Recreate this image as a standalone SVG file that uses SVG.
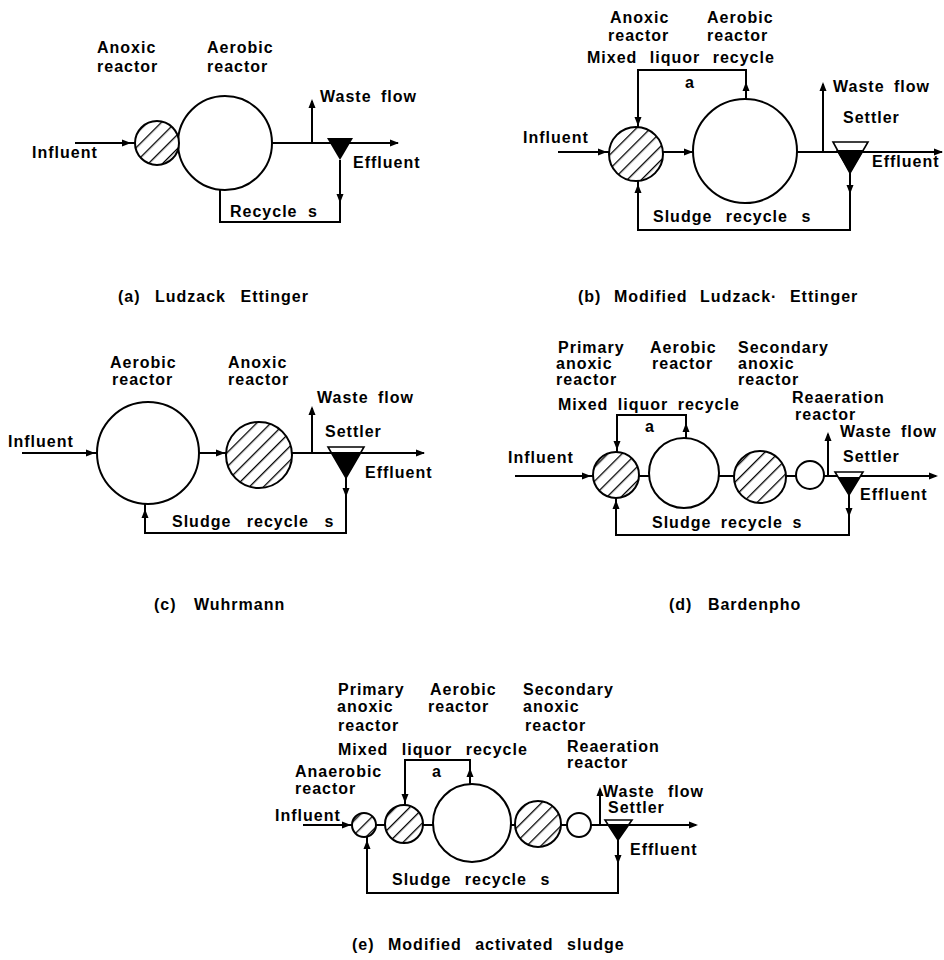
<svg xmlns="http://www.w3.org/2000/svg" xmlns:xlink="http://www.w3.org/1999/xlink" width="944" height="960" viewBox="0 0 944 960">
<style>
.t{font-family:"Liberation Sans",Arial,sans-serif;font-size:16px;font-weight:bold;letter-spacing:1px;word-spacing:4px;fill:#000}
.c{fill:#fff;stroke:#000;stroke-width:2}
.h{fill:url(#hatch);stroke:#000;stroke-width:2}
.ln{fill:none;stroke:#000;stroke-width:2}
.st{fill:#fff;stroke:#000;stroke-width:1.6}
.blk{fill:#000}
</style>
<defs>
<pattern id="hatch" patternUnits="userSpaceOnUse" width="10" height="10" patternTransform="rotate(45)">
<rect width="10" height="10" fill="#fff"/>
<line x1="0" y1="0" x2="0" y2="10" stroke="#000" stroke-width="2.6"/>
</pattern>
<path id="ah" d="M0,0 L-9,-3.5 L-9,3.5 Z" fill="#000"/>
</defs>
<rect width="944" height="960" fill="#fff"/>

<!-- ===== connectors ===== -->
<g id="connectors">
<!-- (a) -->
<path class="ln" d="M75,143 H136"/>
<path class="ln" d="M272,143 H398"/>
<path class="ln" d="M312,143 V101"/>
<path class="ln" d="M340,160 V222 H220 V189"/>
<use xlink:href="#ah" transform="translate(131,143)"/>
<use xlink:href="#ah" transform="translate(399,143)"/>
<use xlink:href="#ah" transform="translate(312,99) rotate(-90)"/>
<use xlink:href="#ah" transform="translate(340,203) rotate(90)"/>
<!-- (b) -->
<path class="ln" d="M558,152 H609"/>
<path class="ln" d="M663,152 H693"/>
<path class="ln" d="M797,152 H942"/>
<path class="ln" d="M823,152 V84"/>
<path class="ln" d="M746,99 V70 H638 V127"/>
<path class="ln" d="M850,173 V230 H638 V181"/>
<use xlink:href="#ah" transform="translate(607,152)"/>
<use xlink:href="#ah" transform="translate(693,152)"/>
<use xlink:href="#ah" transform="translate(943,152)"/>
<use xlink:href="#ah" transform="translate(823,82) rotate(-90)"/>
<use xlink:href="#ah" transform="translate(746,82) rotate(-90)"/>
<use xlink:href="#ah" transform="translate(638,126) rotate(90)"/>
<use xlink:href="#ah" transform="translate(850,194) rotate(90)"/>
<use xlink:href="#ah" transform="translate(638,184) rotate(-90)"/>
<!-- (c) -->
<path class="ln" d="M22,453 H97"/>
<path class="ln" d="M199,453 H226"/>
<path class="ln" d="M292,453 H424"/>
<path class="ln" d="M312,453 V408"/>
<path class="ln" d="M346,478 V533 H145 V504"/>
<use xlink:href="#ah" transform="translate(95,453)"/>
<use xlink:href="#ah" transform="translate(225,453)"/>
<use xlink:href="#ah" transform="translate(425,453)"/>
<use xlink:href="#ah" transform="translate(312,406) rotate(-90)"/>
<use xlink:href="#ah" transform="translate(346,497) rotate(90)"/>
<use xlink:href="#ah" transform="translate(145,509) rotate(-90)"/>
<!-- (d) -->
<path class="ln" d="M515,476 H593"/>
<path class="ln" d="M639,476 H649"/>
<path class="ln" d="M719,476 H734"/>
<path class="ln" d="M786,476 H796"/>
<path class="ln" d="M824,476 H936"/>
<path class="ln" d="M828,476 V434"/>
<path class="ln" d="M686,438 V415 H617 V452"/>
<path class="ln" d="M849,495 V535 H616 V498"/>
<use xlink:href="#ah" transform="translate(591,476)"/>
<use xlink:href="#ah" transform="translate(938,476)"/>
<use xlink:href="#ah" transform="translate(828,432) rotate(-90)"/>
<use xlink:href="#ah" transform="translate(686,423) rotate(-90)"/>
<use xlink:href="#ah" transform="translate(617,450) rotate(90)"/>
<use xlink:href="#ah" transform="translate(849,517) rotate(90)"/>
<use xlink:href="#ah" transform="translate(616,500) rotate(-90)"/>
<!-- (e) -->
<path class="ln" d="M303,825 H352"/>
<path class="ln" d="M376,825 H386"/>
<path class="ln" d="M423,825 H433"/>
<path class="ln" d="M511,825 H516"/>
<path class="ln" d="M561,825 H567"/>
<path class="ln" d="M591,825 H696"/>
<path class="ln" d="M600,825 V789"/>
<path class="ln" d="M470,784 V760 H405 V805"/>
<path class="ln" d="M618,840 V893 H367 V837"/>
<use xlink:href="#ah" transform="translate(351,825)"/>
<use xlink:href="#ah" transform="translate(698,825)"/>
<use xlink:href="#ah" transform="translate(600,787) rotate(-90)"/>
<use xlink:href="#ah" transform="translate(470,768) rotate(-90)"/>
<use xlink:href="#ah" transform="translate(405,803) rotate(90)"/>
<use xlink:href="#ah" transform="translate(618,864) rotate(90)"/>
<use xlink:href="#ah" transform="translate(367,840) rotate(-90)"/>
</g>

<!-- ===== panel (a) ===== -->
<g id="a-aerobic"><circle class="c" cx="225" cy="143" r="47"/><text class="t" x="207" y="53">Aerobic</text><text class="t" x="207" y="72">reactor</text></g>
<g id="a-anoxic"><circle class="h" cx="157" cy="143" r="22"/><text class="t" x="97" y="53">Anoxic</text><text class="t" x="97" y="72">reactor</text></g>
<g id="a-settler"><polygon class="blk" points="327,138 353,138 340,160"/></g>
<g id="a-labels">
<text class="t" x="320" y="102">Waste flow</text>
<text class="t" x="32" y="158">Influent</text>
<text class="t" x="353" y="168">Effluent</text>
<text class="t" x="230" y="217">Recycle<tspan x="308">s</tspan></text>
<text class="t" x="118" y="302" style="word-spacing:9px">(a) Ludzack Ettinger</text>
</g>

<!-- ===== panel (b) ===== -->
<g id="b-anoxic"><circle class="h" cx="636" cy="154" r="27"/><text class="t" x="610" y="23">Anoxic</text><text class="t" x="608" y="41">reactor</text></g>
<g id="b-aerobic"><circle class="c" cx="745" cy="151" r="52"/><text class="t" x="707" y="23">Aerobic</text><text class="t" x="707" y="41">reactor</text></g>
<g id="b-settler"><polygon class="st" points="833,142 868,142 850,173"/><polygon class="blk" points="836,150 864,150 850,173"/><text class="t" x="843" y="123">Settler</text></g>
<g id="b-labels">
<text class="t" x="587" y="63" style="word-spacing:7px">Mixed liquor recycle</text>
<text class="t" x="685" y="88">a</text>
<text class="t" x="833" y="92">Waste flow</text>
<text class="t" x="523" y="143">Influent</text>
<text class="t" x="872" y="167">Effluent</text>
<text class="t" x="653" y="222" style="word-spacing:8px">Sludge recycle s</text>
<text class="t" x="578" y="302" style="word-spacing:7px">(b) Modified Ludzack· Ettinger</text>
</g>

<!-- ===== panel (c) ===== -->
<g id="c-aerobic"><circle class="c" cx="148" cy="453" r="51"/><text class="t" x="110" y="368">Aerobic</text><text class="t" x="112" y="385">reactor</text></g>
<g id="c-anoxic"><circle class="h" cx="259" cy="455" r="33"/><text class="t" x="228" y="368">Anoxic</text><text class="t" x="228" y="385">reactor</text></g>
<g id="c-settler"><polygon class="st" points="328,447 364,447 346,478"/><polygon class="blk" points="331,452 361,452 346,478"/><text class="t" x="325" y="437">Settler</text></g>
<g id="c-labels">
<text class="t" x="317" y="403">Waste flow</text>
<text class="t" x="8" y="447">Influent</text>
<text class="t" x="365" y="478">Effluent</text>
<text class="t" x="172" y="527" style="word-spacing:10px">Sludge recycle s</text>
<text class="t" x="154" y="610" style="word-spacing:12px">(c) Wuhrmann</text>
</g>

<!-- ===== panel (d) ===== -->
<g id="d-primary"><circle class="h" cx="616" cy="475" r="23"/><text class="t" x="558" y="353">Primary</text><text class="t" x="556" y="369">anoxic</text><text class="t" x="556" y="385">reactor</text></g>
<g id="d-aerobic"><circle class="c" cx="684" cy="473" r="35"/><text class="t" x="650" y="353">Aerobic</text><text class="t" x="652" y="369">reactor</text></g>
<g id="d-secondary"><circle class="h" cx="760" cy="477" r="26"/><text class="t" x="738" y="353">Secondary</text><text class="t" x="738" y="369">anoxic</text><text class="t" x="738" y="385">reactor</text></g>
<g id="d-reaeration"><circle class="c" cx="810" cy="475" r="14"/><text class="t" x="792" y="403">Reaeration</text><text class="t" x="795" y="420">reactor</text></g>
<g id="d-settler"><polygon class="st" points="835,472 863,472 849,495"/><polygon class="blk" points="838,477 860,477 849,495"/><text class="t" x="843" y="462">Settler</text></g>
<g id="d-labels">
<text class="t" x="558" y="410">Mixed liquor recycle</text>
<text class="t" x="645" y="432">a</text>
<text class="t" x="840" y="437">Waste flow</text>
<text class="t" x="508" y="463">Influent</text>
<text class="t" x="860" y="500">Effluent</text>
<text class="t" x="652" y="528">Sludge recycle s</text>
<text class="t" x="669" y="610" style="word-spacing:10px">(d) Bardenpho</text>
</g>

<!-- ===== panel (e) ===== -->
<g id="e-anaerobic"><circle class="h" cx="364" cy="825" r="12"/><text class="t" x="295" y="777">Anaerobic</text><text class="t" x="295" y="794">reactor</text></g>
<g id="e-primary"><circle class="h" cx="404" cy="824" r="19"/><text class="t" x="338" y="695">Primary</text><text class="t" x="337" y="712">anoxic</text><text class="t" x="338" y="731">reactor</text></g>
<g id="e-aerobic"><circle class="c" cx="472" cy="823" r="39"/><text class="t" x="430" y="695">Aerobic</text><text class="t" x="428" y="712">reactor</text></g>
<g id="e-secondary"><circle class="h" cx="538" cy="824" r="23"/><text class="t" x="523" y="695">Secondary</text><text class="t" x="523" y="712">anoxic</text><text class="t" x="525" y="731">reactor</text></g>
<g id="e-reaeration"><circle class="c" cx="579" cy="825" r="12"/><text class="t" x="567" y="752">Reaeration</text><text class="t" x="567" y="768">reactor</text></g>
<g id="e-settler"><polygon class="st" points="605,820 632,820 618,840"/><polygon class="blk" points="608,824 629,824 618,840"/><text class="t" x="608" y="813">Settler</text></g>
<g id="e-labels">
<text class="t" x="338" y="755" style="word-spacing:8px">Mixed liquor recycle</text>
<text class="t" x="432" y="777">a</text>
<text class="t" x="603" y="797" style="word-spacing:8px">Waste flow</text>
<text class="t" x="275" y="821">Influent</text>
<text class="t" x="630" y="855">Effluent</text>
<text class="t" x="392" y="885" style="word-spacing:8px">Sludge recycle s</text>
<text class="t" x="352" y="950" style="word-spacing:8px">(e) Modified activated sludge</text>
</g>
</svg>
